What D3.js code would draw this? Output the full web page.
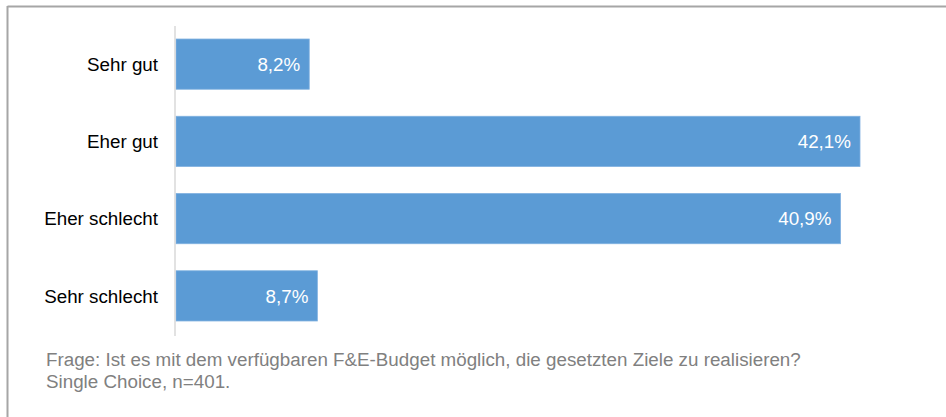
<!DOCTYPE html>
<html><head><meta charset="utf-8">
<script src="https://cdn.jsdelivr.net/npm/d3@7"></script>
<style>body{margin:0;background:#fff}svg{display:block;font-family:"Liberation Sans",Arial,sans-serif}</style>
</head><body>
<svg id="c" width="946" height="417"></svg>
<script>
const categories = ["Sehr gut", "Eher gut", "Eher schlecht", "Sehr schlecht"];
const values = [8.2, 42.1, 40.9, 8.7];
const valueLabels = ["8,2%", "42,1%", "40,9%", "8,7%"];
const footnotes = ["Frage: Ist es mit dem verfügbaren F&E-Budget möglich, die gesetzten Ziele zu realisieren?", "Single Choice, n=401."];

const svg = d3.select("#c");
// frame
svg.append("line").attr("x1",7.5).attr("x2",946).attr("y1",6.5).attr("y2",6.5).attr("stroke","#a6a6a6").attr("stroke-width",2);
svg.append("line").attr("x1",7.5).attr("x2",7.5).attr("y1",6).attr("y2",417).attr("stroke","#a6a6a6").attr("stroke-width",2);

const x = d3.scaleLinear().domain([0, 42.1]).range([176, 860]);
const y = d3.scaleBand().domain(categories).range([25.5, 334.5]).paddingInner(0.35).paddingOuter(0.175);

svg.selectAll("rect.bar").data(categories).join("rect")
  .attr("class","bar")
  .attr("x", x(0))
  .attr("y", d => y(d))
  .attr("width", (d,i) => x(values[i]) - x(0))
  .attr("height", y.bandwidth())
  .attr("fill", "#5b9bd5")
  .attr("stroke", "#7fb0e0").attr("stroke-width", 0.8);

svg.append("line").attr("x1",175).attr("x2",175).attr("y1",26).attr("y2",336).attr("stroke","#d9d9d9").attr("stroke-width",1.5);

svg.selectAll("text.cat").data(categories).join("text")
  .attr("class","cat")
  .attr("x", 158)
  .attr("y", d => y(d) + y.bandwidth()/2)
  .attr("dy","0.36em")
  .attr("text-anchor","end")
  .attr("font-size", 18.8)
  .attr("fill","#000")
  .text(d => d);

svg.selectAll("text.val").data(categories).join("text")
  .attr("class","val")
  .attr("x", (d,i) => x(values[i]) - 9)
  .attr("y", d => y(d) + y.bandwidth()/2)
  .attr("dy","0.36em")
  .attr("text-anchor","end")
  .attr("font-size", 18.8)
  .attr("fill","#fff")
  .text((d,i) => valueLabels[i]);

svg.selectAll("text.foot").data(footnotes).join("text")
  .attr("class","foot")
  .attr("x", 46)
  .attr("y", (d,i) => 366 + i*22)
  .attr("font-size", 18.8)
  .attr("fill","#808080")
  .text(d => d);
</script>
</body></html>
